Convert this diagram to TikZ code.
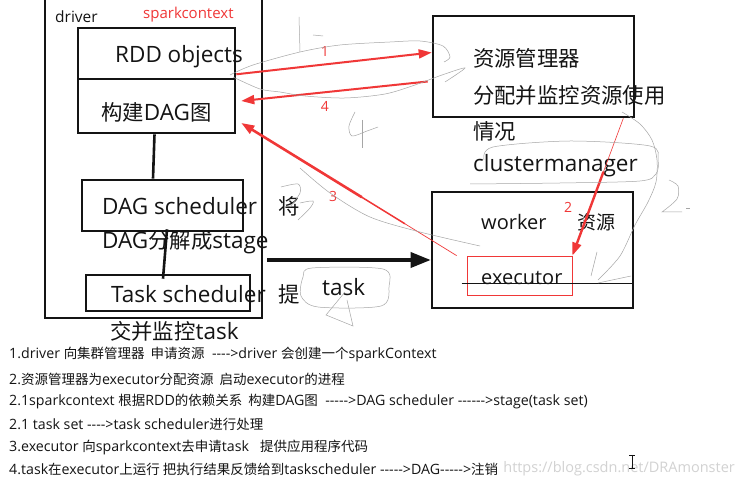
\documentclass[tikz,border=0pt]{standalone}
\usepackage{fontspec}
\setmainfont{Open Sans}
\newfontfamily\zhfont{Noto Sans CJK SC}[Scale=0.95]
\newcommand\zh[1]{{\zhfont #1}}
\newcommand\dd{-{}}
\usetikzlibrary{arrows.meta,calc}
\definecolor{rd}{RGB}{240,55,55}
\definecolor{ink}{RGB}{20,20,20}
\begin{document}
\begin{tikzpicture}[x=1pt,y=-1pt,
  box/.style={draw=ink, line width=2.6pt, inner sep=0, fill=none},
  bigtxt/.style={font=\fontsize{22.5}{26}\selectfont, text=ink, inner sep=0, anchor=west},
  midtxt/.style={font=\fontsize{20}{24}\selectfont, text=ink, inner sep=0, anchor=west},
  smalltxt/.style={font=\fontsize{14.2}{16}\selectfont, text=ink, inner sep=0, anchor=west},
  lbl/.style={font=\fontsize{14}{16}\selectfont, text=rd, inner sep=0},
  scr/.style={draw=gray!70, line width=0.5pt},
  rtip/.style={-{Triangle[length=13pt,width=9pt]}},
]
\useasboundingbox (0,0) rectangle (745,486);
\fill[white] (0,0) rectangle (745,486);

% driver side boxes
\node[box, line width=2pt, minimum width=217, minimum height=323] (driver) at (153.5,156.5) {};
\node[box, minimum width=157, minimum height=51] (rdd) at (156.5,53.5) {};
\node[box, minimum width=157, minimum height=54] (dagimg) at (156.5,106) {};
\node[box, minimum width=161, minimum height=51] (dagsch) at (162.5,205.5) {};
\node[box, minimum width=164, minimum height=36] (tasksch) at (168,293) {};

% right side boxes
\node[box, minimum width=201, minimum height=101] (rm) at (533.5,66.5) {};
\node[box, minimum width=201, minimum height=116] (wk) at (532.5,250) {};
\node[draw=rd, line width=0.8pt, inner sep=0, minimum width=105, minimum height=39] (ex) at (519.5,275.5) {};

% texts
\node[bigtxt, font=\fontsize{15.5}{18}\selectfont] (tdriver) at (55,17) {driver};
\node[bigtxt, font=\fontsize{15}{18}\selectfont, text=rd] (tsc) at (143,15) {sparkcontext};
\node[bigtxt] (trdd) at (115,57) {RDD objects};
\node[bigtxt] (tdag) at (101,112) {\zh{构建}DAG\zh{图}};
\node[bigtxt] (tds) at (102,206) {DAG scheduler};
\node[bigtxt] (tjiang) at (278,206) {\zh{将}};
\node[bigtxt] (tstage) at (102,242) {DAG\zh{分解成}stage};
\node[bigtxt] (tts) at (111,294) {Task scheduler};
\node[bigtxt] (tti) at (278,294) {\zh{提}};
\node[bigtxt] (tjiao) at (110,331) {\zh{交并监控}task};
\node[bigtxt] (ttask) at (322,287) {task};
\node[bigtxt] (trm1) at (473,58) {\zh{资源管理器}};
\node[bigtxt] (trm2) at (473,95) {\zh{分配并监控资源使用}};
\node[bigtxt] (trm3) at (473,131) {\zh{情况}};
\node[bigtxt] (trm4) at (473,166) {clustermanager};
\node[midtxt] (twk) at (481,222) {worker};
\node[midtxt] (tzy) at (577,222) {\zh{资源}};
\node[midtxt] (tex) at (481,278) {executor};

% inner connectors of the driver
\draw[ink, line width=2.6pt] ([xshift=-2pt]dagimg.south) -- ([xshift=-9.5pt]dagsch.north);
\draw[ink, line width=2.6pt] ([xshift=4.5pt,yshift=3pt]dagsch.south) -- ([xshift=-5pt,yshift=-5pt]tasksch.north);
% line through executor
\draw[ink, line width=1pt] ([xshift=-5pt,yshift=-8.5pt]ex.west) -- ([xshift=-1.5pt,yshift=-34pt]wk.east);

% black arrow to worker
\draw[ink, line width=3.5pt, -{Triangle[length=20pt,width=15pt]}] ([xshift=4pt,yshift=-103.5pt]driver.east) -- ([yshift=-10pt]wk.west);

% red arrows
\draw[rd, line width=2pt, rtip] ([yshift=6pt]rdd.south east) -- ([yshift=14pt]rm.west);
\draw[rd, line width=2pt, rtip] ([xshift=-4pt,yshift=-15pt]rm.west) -- ([xshift=5pt,yshift=5pt]dagimg.east);
\coordinate (s3) at ([xshift=-10pt]ex.north west);
\coordinate (e3) at ([xshift=5pt,yshift=-17pt]dagimg.east);
\draw[rd, line width=0.7pt] (s3) -- ($(s3)!0.25!(e3)$);
\draw[rd, line width=1.5pt] ($(s3)!0.24!(e3)$) -- ($(s3)!0.45!(e3)$);
\draw[rd, line width=2.6pt, rtip] ($(s3)!0.44!(e3)$) -- (e3);
\coordinate (s2) at ([xshift=-12pt]rm.south east);
\draw[rd, line width=0.6pt] (s2) -- ($(s2)!0.4!(ex.north east)$);
\draw[rd, line width=2.4pt, rtip] ($(s2)!0.39!(ex.north east)$) -- (ex.north east);

% red labels
\node[lbl] (l1) at (325,52) {1};
\node[lbl] (l4) at (325,106) {4};
\node[lbl] (l3) at (333,197) {3};
\node[lbl] (l2) at (568,207) {2};

% freehand scribbles
\draw[scr] plot[smooth] coordinates {(230,75)(253,65)(300,52)(340,45)(390,42)(420,41)(443,46)(450,57)(444,62)};
\draw[scr] plot[smooth] coordinates {(445,82)(465,68)(442,75)(415,85)(385,94)(345,98)(305,96)(280,92)(260,89)(233,77)};
\draw[scr] (299,17) -- (300,52);
\draw[scr] (313,35) -- (323,36);
\draw[scr] plot[smooth] coordinates {(355,112)(349,126)(352,136)(367,131)(378,127)};
\draw[scr] (362,120) -- (362,148);
\draw[scr] plot[smooth] coordinates {(300,168)(330,193)(370,217)(420,232)(480,246)};
\draw[scr] plot[smooth] coordinates {(281,187)(298,184)(300,193)(290,207)};
\draw[scr] plot[smooth] coordinates {(300,203)(313,201)(310,208)(298,220)};
\draw[scr] plot[smooth cycle] coordinates {(312,268)(383,269)(389,287)(381,306)(318,307)(301,296)(303,277)};
\draw[scr] (345,292) -- (326,315) -- (353,326) -- (347,300);
\draw[scr] plot[smooth] coordinates {(484,160)(493,147)(570,141)(650,146)(658,160)(656,174)(640,181)(560,183)(470,184)};
\draw[scr] plot[smooth] coordinates {(622,112)(640,124)(652,140)(657,160)(656,182)(648,202)(635,225)(620,256)(598,280)};
\draw[scr] plot[smooth] coordinates {(669,180)(678,186)(677,199)(662,212)} -- (682,212);
\draw[scr] (686,208) -- (690,208);
\draw[scr] (598,283) -- (631,276);
\draw[scr] (597,252) -- (591,276);

% watermark (under the notes)
\node[smalltxt, text=gray!35, anchor=east, font=\fontsize{14.5}{17}\selectfont] (wm) at (735,469) {https://blog.csdn.net/DRAmonster};
\draw[ink, line width=0.9pt] (632,455) -- (632,468) (629,455) -- (635,455) (629,468) -- (635,468);

% bottom notes
\node[smalltxt] (n1) at (9,355) {1.driver \zh{向集群管理器\ \ 申请资源}\ \ \dd\dd\dd\dd>driver \zh{会创建一个}sparkContext};
\node[smalltxt] (n2) at (9,379) {2.\zh{资源管理器为}executor\zh{分配资源\ \ 启动}executor\zh{的进程}};
\node[smalltxt] (n3) at (9,402) {2.1sparkcontext \zh{根据}RDD\zh{的依赖关系\ \ 构建}DAG\zh{图}\ \ \dd\dd\dd\dd\dd>DAG scheduler \dd\dd\dd\dd\dd\dd>stage(task set)};
\node[smalltxt] (n4) at (9,424) {2.1 task set \dd\dd\dd\dd>task scheduler\zh{进行处理}};
\node[smalltxt] (n5) at (9,447) {3.executor \zh{向}sparkcontext\zh{去申请}task\ \ \ \zh{提供应用程序代码}};
\node[smalltxt] (n6) at (9,469) {4.task\zh{在}executor\zh{上运行 把执行结果反馈给到}taskscheduler \dd\dd\dd\dd\dd>DAG\dd\dd\dd\dd\dd>\zh{注销}};
\end{tikzpicture}
\end{document}
